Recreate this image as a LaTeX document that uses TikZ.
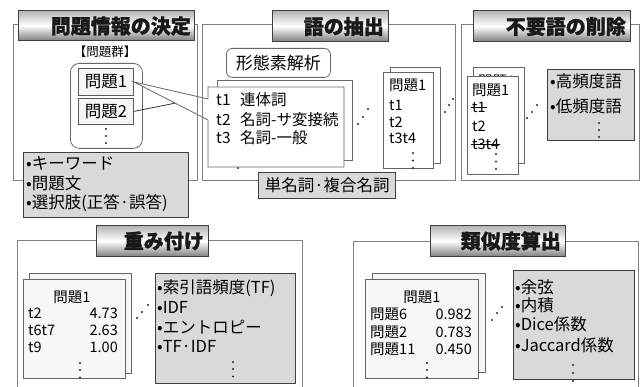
\documentclass[tikz,border=0pt]{standalone}
\usepackage{fontspec}
\setmainfont{Noto Sans CJK JP}
\newfontfamily\heavy{Noto Sans CJK JP}[BoldFeatures={FakeBold=1.3}]
\newcommand\bx[6]{\node[#1,anchor=north west,inner sep=0pt,minimum width={#5-#3},minimum height={#6-#4}] (#2) at (#3,#4) {};}
\newcommand\dt[2]{\fill[black!85] (#1,#2) circle[radius=1.1pt];}
\begin{document}
\begin{tikzpicture}[x=1pt,y=-1pt,
  frame/.style={draw=black!50,line width=0.8pt},
  ttl/.style={draw=black!75,line width=0.9pt,top color=black!30,bottom color=black!50,middle color=white},
  ttltxt/.style={inner sep=0pt,anchor=east,font=\fontsize{20}{24}\selectfont\heavy\bfseries,text=black!90},
  gbox/.style={draw=black!75,line width=1.4pt,fill=black!15},
  card/.style={draw=black!60,line width=0.8pt,fill=white},
  lcard/.style={draw=black!60,line width=0.8pt,fill=black!3},
  qbox/.style={draw=black!65,line width=0.8pt,fill=black!4},
  rbox/.style={draw=black!60,line width=0.8pt,rounded corners=9pt},
  tx/.style={inner sep=0pt,anchor=west,font=\fontsize{15.5}{18}\selectfont},
  ts/.style={inner sep=0pt,anchor=west,font=\fontsize{14.5}{17}\selectfont},
  tg/.style={inner sep=0pt,anchor=west,font=\fontsize{16.5}{19}\selectfont}
]
\useasboundingbox (0,0) rectangle (640,387);

% ---------- Panel 1 ----------
\node[inner sep=0pt,font=\fontsize{12.5}{15}\selectfont] (grp) at (105,52) {【問題群】};
\bx{rbox}{group}{70}{63}{142}{148}
\node[qbox,anchor=north west,inner sep=0pt,minimum width=55,minimum height=27,font=\fontsize{16.5}{19}\selectfont] (p1) at (78,68) {問題1};
\node[qbox,anchor=north west,inner sep=0pt,minimum width=55,minimum height=26,font=\fontsize{16.5}{19}\selectfont] (p2) at (78,98) {問題2};
\dt{106}{129}\dt{106}{136}\dt{106}{143}

% ---------- Panel 2 ----------
\node[rbox,rounded corners=6pt,anchor=north west,inner sep=0pt,minimum width=104,minimum height=29,font=\fontsize{17}{20}\selectfont] (morph) at (226,48) {形態素解析};
\bx{card}{mback}{217}{80}{352}{160}
\dt{238}{168}
\coordinate (c2) at (190,100.2);
\draw[black!80,line width=0.8pt] (p2.east) -- (c2);
\draw[card] (208,87) -- (344,87) -- (344,167) -- (208,167) -- (208,120) -- (p1.east) -- (208,99) -- cycle;
\node[tx] (m1a) at (216,100) {t1};
\node[tx] (m1b) at (240,100) {連体詞};
\node[tx] (m2a) at (216,120) {t2};
\node[tx] (m2b) at (240,120) {名詞-サ変接続};
\node[tx] (m3a) at (216,138) {t3};
\node[tx] (m3b) at (240,138) {名詞-一般};
\dt{358}{124}\dt{363}{117}\dt{368}{109}
\bx{card}{q2back}{390}{67}{440}{163}
\bx{card}{q2front}{383}{72}{433}{168}
\node[ts] at (389,85) {問題1};
\node[ts] at (389,105) {t1};
\node[ts] at (389,122) {t2};
\node[ts] at (389,138) {t3t4};
\dt{413}{153}\dt{413}{160.5}\dt{413}{168}
\dt{445}{112}\dt{449}{105}\dt{453}{99}

% ---------- Panel 3 ----------
\bx{card}{q3back}{473}{67}{524}{163}
\begin{scope}
\clip (474,68) rectangle (523,75.6);
\node[ts] at (478,81) {問題1};
\end{scope}
\bx{card}{q3front}{467}{76}{518}{174}
\node[ts] at (472,90) {問題1};
\node[ts] (s1) at (472,107) {t1};
\draw[black,line width=0.7pt] ([xshift=-1pt]s1.west) -- ([xshift=1pt]s1.east);
\node[ts] at (472,126) {t2};
\node[ts] (s3) at (472,144) {t3t4};
\draw[black,line width=0.7pt] ([xshift=-1pt]s3.west) -- ([xshift=1pt]s3.east);
\dt{496}{154}\dt{496}{161.5}\dt{496}{169}
\dt{527}{118}\dt{532}{112}\dt{537}{105}

% ---------- Panel 4 ----------
\bx{lcard}{w4back}{29}{273}{131}{373}
\bx{lcard}{w4front}{23}{279}{125}{378}
\node[ts,anchor=center] at (72,297) {問題1};
\node[ts] at (28,313) {t2};
\node[ts,anchor=east] at (118,313) {4.73};
\node[ts] at (28,330) {t6t7};
\node[ts,anchor=east] at (118,330) {2.63};
\node[ts] at (28,347) {t9};
\node[ts,anchor=east] at (118,347) {1.00};
\dt{80}{363}\dt{80}{370}\dt{80}{377.5}
\dt{137}{318}\dt{142}{312}\dt{148}{305}

% ---------- Panel 5 ----------
\bx{lcard}{s5back}{372}{273}{485}{372}
\bx{lcard}{s5front}{365}{279}{478}{378}
\node[ts,anchor=center] at (422,297) {問題1};
\node[ts] at (370,314) {問題6};
\node[ts,anchor=east] at (472,314) {0.982};
\node[ts] at (370,332) {問題2};
\node[ts,anchor=east] at (472,332) {0.783};
\node[ts] at (370,349) {問題11};
\node[ts,anchor=east] at (472,349) {0.450};
\dt{427}{363}\dt{427}{370}\dt{427}{377.5}
\dt{492}{320}\dt{497}{313}\dt{502}{307}

% ---------- Frames ----------
\draw[frame] (13,24) rectangle (197,180);
\draw[frame] (202,24) rectangle (455,180);
\draw[frame] (461,24) rectangle (639,180);
\draw[frame] (17,388) -- (17,240) -- (302,240) -- (302,388);
\draw[frame] (353,388) -- (353,241) -- (638,241) -- (638,388);

% ---------- Title boxes ----------
\bx{ttl}{t1}{18}{10}{194}{40}
\node[ttltxt] at (191,26) {問題情報の決定};
\bx{ttl}{t2}{272}{10}{388}{41}
\node[ttltxt] at (384,26.5) {語の抽出};
\bx{ttl}{t3}{473}{10}{630}{41}
\node[ttltxt] at (626,26.5) {不要語の削除};
\bx{ttl}{t4}{96}{225}{208}{256}
\node[ttltxt] at (204,241) {重み付け};
\bx{ttl}{t5}{430}{225}{565}{256}
\node[ttltxt] at (561,241) {類似度算出};

% ---------- Gray boxes ----------
\bx{gbox}{g1}{23}{152}{188}{217}
\node[tg] at (26,163) {•キーワード};
\node[tg] at (26,183) {•問題文};
\node[tg] at (26,203) {•選択肢(正答·誤答)};

\node[gbox,anchor=north west,inner sep=0pt,minimum width=137,minimum height=26,font=\fontsize{16.5}{19}\selectfont] (g2) at (258,172) {単名詞·複合名詞};

\bx{gbox}{g3}{547}{69}{634}{140}
\node[tg] at (550,81) {•高頻度語};
\node[tg] at (550,106) {•低頻度語};
\dt{599}{123}\dt{599}{130}\dt{599}{137}

\bx{gbox}{g4}{155}{273}{295}{383}
\node[tg] at (157,288) {•索引語頻度(TF)};
\node[tg] at (157,307) {•IDF};
\node[tg] at (157,327) {•エントロピー};
\node[tg] at (157,346) {•TF·IDF};
\dt{233}{362}\dt{233}{369}\dt{233}{376.5}

\bx{gbox}{g5}{513}{270}{634}{379}
\node[tg] at (515,287) {•余弦};
\node[tg] at (515,305) {•内積};
\node[tg] at (515,324) {•Dice係数};
\node[tg] at (515,345) {•Jaccard係数};
\dt{573}{365}\dt{573}{373}\dt{573}{381}
\end{tikzpicture}
\end{document}
